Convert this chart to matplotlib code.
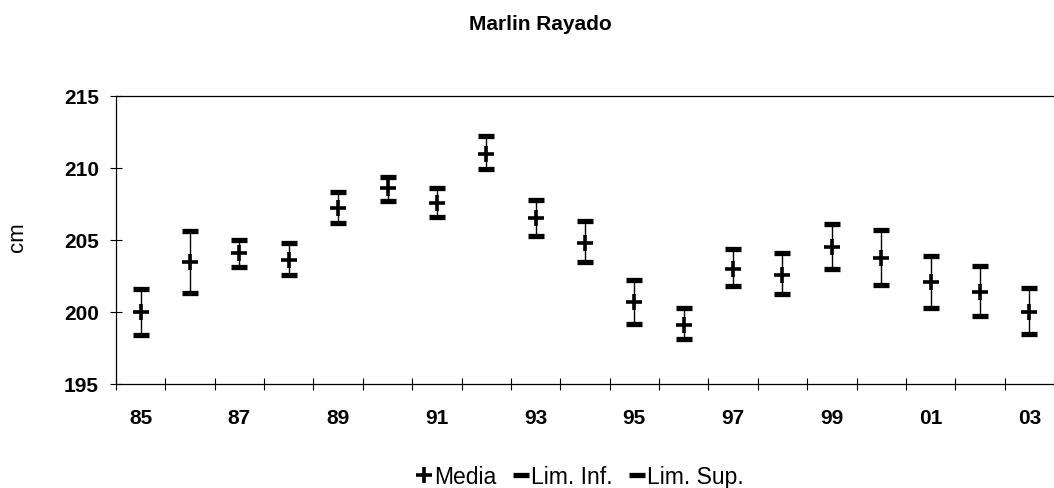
import matplotlib
matplotlib.use('Agg')
import matplotlib.pyplot as plt
from matplotlib.lines import Line2D

plt.rcParams['font.family'] = ['Liberation Sans', 'DejaVu Sans']

years = ['85', '86', '87', '88', '89', '90', '91', '92', '93', '94',
         '95', '96', '97', '98', '99', '00', '01', '02', '03']
media = [200.0, 203.45, 204.1, 203.6, 207.2, 208.6, 207.6, 211.0, 206.5, 204.8,
         200.7, 199.1, 203.0, 202.6, 204.5, 203.75, 202.1, 201.4, 200.0]
lim_inf = [198.4, 201.3, 203.1, 202.6, 206.2, 207.7, 206.6, 209.9, 205.3, 203.5,
           199.2, 198.1, 201.8, 201.25, 203.0, 201.9, 200.3, 199.7, 198.5]
lim_sup = [201.6, 205.6, 205.0, 204.8, 208.3, 209.4, 208.6, 212.2, 207.8, 206.3,
           202.2, 200.3, 204.4, 204.1, 206.1, 205.7, 203.9, 203.2, 201.65]
yticks = [195, 200, 205, 210, 215]

W, H = 1054, 489
fig = plt.figure(figsize=(W / 100, H / 100), dpi=100)
ax = fig.add_axes([116 / W, 1 - 385 / H, (W - 116) / W, (385 - 97) / H])

x = list(range(len(years)))
ax.vlines(x, lim_inf, lim_sup, color='black', lw=1)
ax.plot(x, lim_inf, ls='none', marker='_', ms=12, mew=3.8, color='black')
ax.plot(x, lim_sup, ls='none', marker='_', ms=12, mew=3.8, color='black')
ax.plot(x, media, ls='none', marker='+', ms=12, mew=2.6, color='black')

ax.set_xlim(-0.5, (W - 116) / 49.8 - 0.5)
ax.set_ylim(195, 215)
ax.set_yticks(yticks)
ax.set_yticklabels([str(v) for v in yticks], fontweight='bold', fontsize=15)
ax.set_xticks(x[::2])
ax.set_xticklabels(years[::2], fontweight='bold', fontsize=15)
ax.set_xticks([i - 0.5 for i in range(len(years) + 1)], minor=True)
ax.tick_params(axis='x', which='major', length=0, pad=17)
ax.tick_params(axis='x', which='minor', direction='inout', length=9, width=0.8)
ax.tick_params(axis='y', which='major', direction='inout', length=9, width=0.8, pad=7.8)

ax.spines['right'].set_visible(False)
for s in ['left', 'top', 'bottom']:
    ax.spines[s].set_linewidth(0.9)

fig.text(540 / W, 1 - 24 / H, 'Marlin Rayado', ha='center', va='center',
         fontsize=15, fontweight='bold')
fig.text(17 / W, 1 - 237 / H, 'cm', ha='center', va='center', rotation=90, fontsize=16)

handles = [
    Line2D([], [], ls='none', marker='+', ms=11, mew=2.6, color='black'),
    Line2D([], [], ls='none', marker='_', ms=11, mew=3.8, color='black'),
    Line2D([], [], ls='none', marker='_', ms=11, mew=3.8, color='black'),
]
fig.legend(handles, ['Media', 'Lim. Inf.', 'Lim. Sup.'], loc='center',
           bbox_to_anchor=(580 / W, 1 - 478 / H), ncol=3, frameon=False,
           fontsize=16.5, handlelength=0.7, handletextpad=0.1, columnspacing=0.7,
           borderpad=0)

fig.savefig('out.png', dpi=100)
